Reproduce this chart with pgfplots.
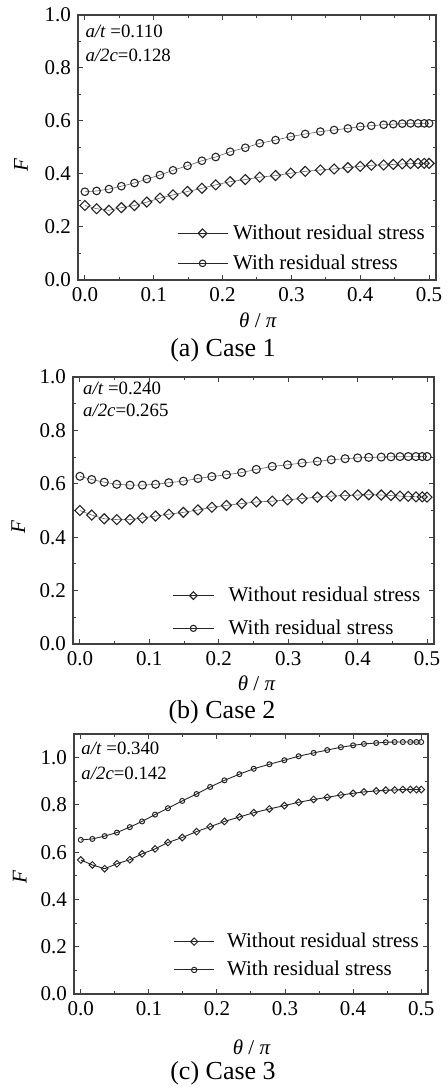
\documentclass[border=0pt]{standalone}
\usepackage{fontspec}
\setmainfont{Liberation Serif}
\usepackage{pgfplots}
\usepackage{pgfplotstable}
\pgfplotsset{compat=1.18}

% columns: theta/pi, F without residual stress, F with residual stress
\pgfplotstableread{
x      wo     w
0.000  0.281  0.333
0.017  0.269  0.336
0.035  0.263  0.343
0.053  0.273  0.354
0.072  0.281  0.366
0.090  0.294  0.381
0.109  0.309  0.396
0.128  0.321  0.414
0.149  0.334  0.431
0.170  0.346  0.450
0.190  0.359  0.464
0.211  0.371  0.484
0.233  0.379  0.499
0.254  0.388  0.516
0.277  0.394  0.528
0.299  0.403  0.541
0.320  0.410  0.551
0.342  0.415  0.560
0.362  0.419  0.566
0.382  0.424  0.572
0.400  0.429  0.579
0.416  0.433  0.582
0.434  0.434  0.586
0.448  0.436  0.588
0.461  0.438  0.590
0.473  0.439  0.591
0.484  0.440  0.591
0.493  0.440  0.591
0.500  0.440  0.591
}\caseA

\pgfplotstableread{
x      wo     w
0.000  0.500  0.628
0.017  0.483  0.616
0.035  0.469  0.606
0.053  0.466  0.598
0.072  0.466  0.595
0.090  0.472  0.595
0.109  0.479  0.598
0.128  0.486  0.604
0.149  0.493  0.610
0.170  0.502  0.620
0.190  0.512  0.627
0.211  0.519  0.634
0.233  0.526  0.642
0.254  0.532  0.654
0.277  0.535  0.665
0.299  0.540  0.671
0.320  0.545  0.678
0.342  0.550  0.684
0.362  0.554  0.690
0.382  0.556  0.694
0.400  0.558  0.697
0.416  0.559  0.699
0.434  0.558  0.700
0.448  0.556  0.701
0.461  0.554  0.702
0.473  0.553  0.702
0.484  0.551  0.702
0.493  0.551  0.702
0.500  0.550  0.702
}\caseB

\pgfplotstableread{
x      wo     w
0.000  0.567  0.652
0.017  0.546  0.656
0.035  0.530  0.668
0.053  0.551  0.683
0.072  0.568  0.706
0.090  0.593  0.730
0.109  0.614  0.759
0.128  0.641  0.786
0.149  0.662  0.817
0.170  0.687  0.846
0.190  0.708  0.876
0.211  0.730  0.904
0.233  0.749  0.930
0.254  0.767  0.953
0.277  0.783  0.972
0.299  0.797  0.989
0.320  0.811  1.006
0.342  0.823  1.020
0.362  0.832  1.032
0.382  0.842  1.044
0.400  0.849  1.052
0.416  0.855  1.058
0.434  0.859  1.062
0.448  0.862  1.065
0.461  0.863  1.066
0.473  0.865  1.066
0.484  0.865  1.066
0.493  0.865  1.066
0.500  0.865  1.066
}\caseC

\definecolor{frame}{gray}{0.25}

\pgfplotsset{
  caseaxis/.style={
    scale only axis, anchor=south west,
    xmin=-0.01, xmax=0.51, ymin=0,
    xtick={0,0.1,0.2,0.3,0.4,0.5},
    xticklabels={0.0,0.1,0.2,0.3,0.4,0.5},
    minor xtick={0.05,0.15,0.25,0.35,0.45},
    ytick={0,0.2,0.4,0.6,0.8,1.0},
    yticklabels={0.0,0.2,0.4,0.6,0.8,1.0},
    minor ytick={0.1,0.3,0.5,0.7,0.9},
    tick align=inside,
    major tick length=2.5pt, minor tick length=1.5pt,
    axis line style={frame, line width=0.6pt},
    tick style={frame, line width=0.5pt},
    tick label style={font=\fontsize{10.5}{12}\selectfont},
    label style={font=\fontsize{10.5}{12}\selectfont},
    xlabel={\textit{θ} / \textit{π}},
    ylabel={\textit{F}},
    legend cell align=left,
    legend style={draw=none, fill=none, inner sep=0pt,
      font=\fontsize{10.5}{12}\selectfont, nodes={inner sep=0pt}, anchor=west},
  },
  % legend symbol: a line of length #1 with one open mark of size #2 in its middle
  keyline/.style 2 args={
    legend image code/.code={
      \draw[##1, mark=none, black!85, line width=0.5pt] (0pt,0pt) -- (#1,0pt);
      \draw[##1, mark size=#2] plot coordinates {(0.5*#1,0pt)};
    },
  },
}
\tikzset{notefont/.style={font=\fontsize{9.4}{11}\selectfont, anchor=west, inner sep=0pt}}

\begin{document}
\begin{tikzpicture}
\useasboundingbox (0,0) rectangle (224pt,544pt);

% ---- Case 1 ----
\begin{axis}[caseaxis,
  at={(39pt,404pt)}, width=179pt, height=132.5pt, ymax=1.0,
  xlabel style={at={(axis description cs:0.503,-0.151)}, anchor=center},
  ylabel style={at={(axis description cs:-0.159,0.434)}, anchor=center},
  legend style={at={(axis description cs:0.2757,0.1196)}, row sep=6.25pt, column sep=2.5pt},
]
\addplot[black!60, line width=0.3pt, mark=square, mark size=1.77pt,
  mark options={rotate=45, solid, fill=white, draw=black!85, line width=0.55pt},
  keyline={25pt}{1.55pt}]
  table[x=x, y=wo] {\caseA};
\addlegendentry{Without residual stress}
\addplot[black!60, line width=0.3pt, mark=o, mark size=1.9pt,
  mark options={solid, fill=white, draw=black!85, line width=0.55pt},
  keyline={25pt}{1.65pt}]
  table[x=x, y=w] {\caseA};
\addlegendentry{With residual stress}
\node[notefont] at (axis description cs:0.02,0.937) {\textit{a/t} =0.110};
\node[notefont] at (axis description cs:0.02,0.849) {\textit{a/2c}=0.128};
\end{axis}
\node[font=\fontsize{13}{15}\selectfont] at (111.5pt,369pt) {(a) Case 1};

% ---- Case 2 ----
\begin{axis}[caseaxis,
  at={(36.5pt,222pt)}, width=180.5pt, height=133.5pt, ymax=1.0,
  xlabel style={at={(axis description cs:0.509,-0.147)}, anchor=center},
  ylabel style={at={(axis description cs:-0.152,0.438)}, anchor=center},
  legend style={at={(axis description cs:0.2734,0.12)}, row sep=7.6pt, column sep=7pt},
]
\addplot[black!60, line width=0.3pt, mark=square, mark size=1.77pt,
  mark options={rotate=45, solid, fill=white, draw=black!85, line width=0.55pt},
  keyline={20.8pt}{1.35pt}]
  table[x=x, y=wo] {\caseB};
\addlegendentry{Without residual stress}
\addplot[black!60, line width=0.3pt, mark=o, mark size=2pt,
  mark options={solid, fill=white, draw=black!85, line width=0.55pt},
  keyline={20.8pt}{1.55pt}]
  table[x=x, y=w] {\caseB};
\addlegendentry{With residual stress}
\node[notefont] at (axis description cs:0.027,0.958) {\textit{a/t} =0.240};
\node[notefont] at (axis description cs:0.027,0.876) {\textit{a/2c}=0.265};
\end{axis}
\node[font=\fontsize{13}{15}\selectfont] at (111pt,188pt) {(b) Case 2};

% ---- Case 3 ----
\begin{axis}[caseaxis,
  at={(37pt,47pt)}, width=177pt, height=130pt, ymax=1.1,
  xlabel style={at={(axis description cs:0.502,-0.203)}, anchor=center},
  ylabel style={at={(axis description cs:-0.153,0.45)}, anchor=center},
  legend style={at={(axis description cs:0.2805,0.147)}, row sep=5.4pt, column sep=6.2pt},
]
\addplot[black!85, line width=0.45pt, mark=square, mark size=1.18pt,
  mark options={rotate=45, solid, fill=white, draw=black!85, line width=0.5pt},
  keyline={20pt}{1.3pt}]
  table[x=x, y=wo] {\caseC};
\addlegendentry{Without residual stress}
\addplot[black!85, line width=0.45pt, mark=o, mark size=1.25pt,
  mark options={solid, fill=white, draw=black!85, line width=0.5pt},
  keyline={20pt}{1.35pt}]
  table[x=x, y=w] {\caseC};
\addlegendentry{With residual stress}
\node[notefont] at (axis description cs:0.02,0.945) {\textit{a/t} =0.340};
\node[notefont] at (axis description cs:0.02,0.849) {\textit{a/2c}=0.142};
\end{axis}
\node[font=\fontsize{13}{15}\selectfont] at (111.5pt,7.35pt) {(c) Case 3};
\end{tikzpicture}
\end{document}
